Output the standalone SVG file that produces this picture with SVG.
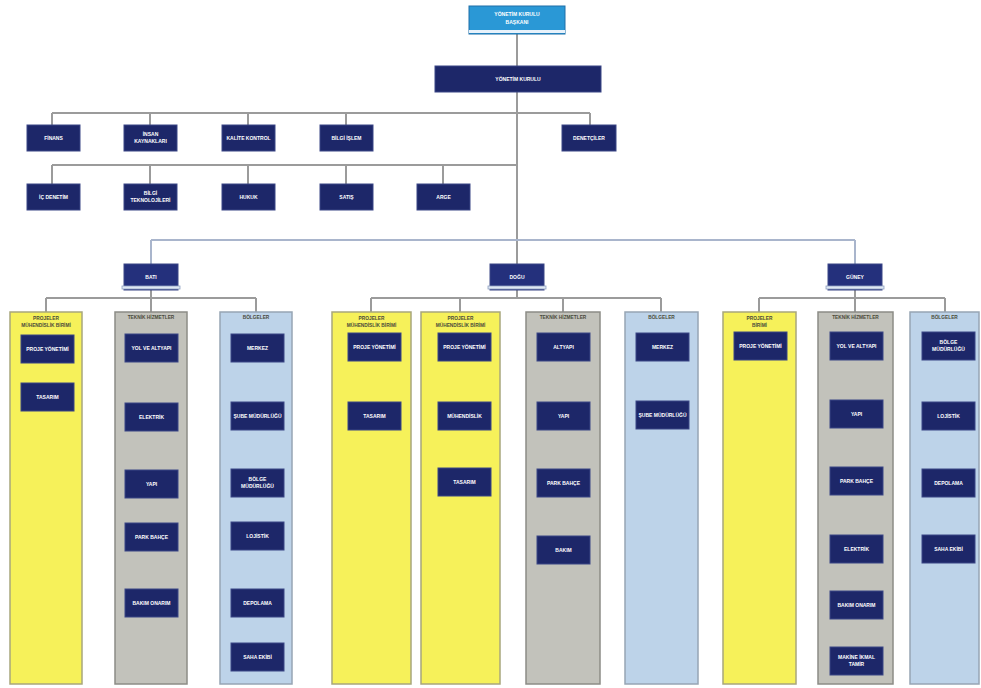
<svg xmlns="http://www.w3.org/2000/svg" width="981" height="688" viewBox="0 0 981 688">
<style>
.box{fill:#1d2769;stroke:#3b4686;stroke-width:1}
.hdr{fill:#24307c;stroke:#3b4686;stroke-width:1}
.stripe{fill:#dfe8f4;stroke:#8fa0c0;stroke-width:0.8}
.t{fill:#ffffff;font-family:"Liberation Sans",Arial,sans-serif;font-size:5px;font-weight:bold;text-anchor:middle}
.ct{fill:#4a4a3a;font-family:"Liberation Sans",Arial,sans-serif;font-size:4.8px;font-weight:bold;text-anchor:middle}
.colY{fill:#f6f15a;stroke:#a8a67c;stroke-width:1.5}
.colG{fill:#c2c2bb;stroke:#8c8c86;stroke-width:1.5}
.colB{fill:#bdd3e9;stroke:#97a5b4;stroke-width:1.5}
.ln{fill:none;stroke:#9b9b9b;stroke-width:2}
.lb{fill:none;stroke:#a9b5cc;stroke-width:2}
</style>
<rect width="981" height="688" fill="#ffffff"/>

<g id="connectors">
<path class="ln" d="M517 34V66M517 92V264"/>
<path class="ln" d="M52 113H590M52 113V125M150 113V125M248 113V125M346 113V125M590 113V125"/>
<path class="ln" d="M52 165H517M52 165V184M150 165V184M248 165V184M346 165V184M443 165V184"/>
<path class="lb" d="M151 240H855M151 240V264M855 240V264"/>
<path class="ln" d="M151 290V298M46 298H256M46 298V312M151 298V312M256 298V312"/>
<path class="ln" d="M517 290V298M371 298H661M371 298V312M460 298V312M563 298V312M661 298V312"/>
<path class="ln" d="M855 290V298M759 298H945M759 298V312M855 298V312M945 298V312"/>
</g>

<g id="n-baskan">
<rect x="469" y="6" width="96" height="28" fill="#2a98d6" stroke="#1f6fa8"/>
<rect x="469" y="30" width="96" height="3" fill="#e8f2fb"/>
<text class="t" x="517" y="16">YÖNETİM KURULU</text>
<text class="t" x="517" y="24">BAŞKANI</text>
</g>
<g id="n-yk">
<rect class="box" x="435" y="66" width="166" height="26"/>
<text class="t" x="518" y="81">YÖNETİM KURULU</text>
</g>

<g id="n-finans"><rect class="box" x="27" y="125" width="53" height="26"/><text class="t" x="53.5" y="140">FİNANS</text></g>
<g id="n-ik"><rect class="box" x="124" y="125" width="53" height="26"/><text class="t" x="150.5" y="136">İNSAN</text><text class="t" x="150.5" y="143">KAYNAKLARI</text></g>
<g id="n-kalite"><rect class="box" x="222" y="125" width="53" height="26"/><text class="t" x="248.5" y="140">KALİTE KONTROL</text></g>
<g id="n-bilgi"><rect class="box" x="320" y="125" width="53" height="26"/><text class="t" x="346.5" y="140">BİLGİ İŞLEM</text></g>
<g id="n-denetci"><rect class="box" x="562" y="125" width="54" height="26"/><text class="t" x="589" y="140">DENETÇİLER</text></g>

<g id="n-icdenetim"><rect class="box" x="27" y="184" width="53" height="26"/><text class="t" x="53.5" y="199">İÇ DENETİM</text></g>
<g id="n-bt"><rect class="box" x="124" y="184" width="53" height="26"/><text class="t" x="150.5" y="195">BİLGİ</text><text class="t" x="150.5" y="202">TEKNOLOJİLERİ</text></g>
<g id="n-hukuk"><rect class="box" x="222" y="184" width="53" height="26"/><text class="t" x="248.5" y="199">HUKUK</text></g>
<g id="n-satis"><rect class="box" x="320" y="184" width="53" height="26"/><text class="t" x="346.5" y="199">SATIŞ</text></g>
<g id="n-arge"><rect class="box" x="417" y="184" width="53" height="26"/><text class="t" x="443.5" y="199">ARGE</text></g>

<g id="h-bati"><rect class="hdr" x="124" y="264" width="54" height="26"/><rect class="stripe" x="122" y="286" width="58" height="3"/><text class="t" x="151" y="279">BATI</text></g>
<g id="h-dogu"><rect class="hdr" x="490" y="264" width="54" height="26"/><rect class="stripe" x="488" y="286" width="58" height="3"/><text class="t" x="517" y="279">DOĞU</text></g>
<g id="h-guney"><rect class="hdr" x="828" y="264" width="54" height="26"/><rect class="stripe" x="826" y="286" width="58" height="3"/><text class="t" x="855" y="279">GÜNEY</text></g>

<!-- BATI columns -->
<g id="c-bati-proje">
<rect class="colY" x="10" y="312" width="72" height="372"/>
<text class="ct" x="46" y="320">PROJELER</text><text class="ct" x="46" y="327">MÜHENDİSLİK BİRİMİ</text>
<g id="n-b1"><rect class="box" x="21" y="335" width="53" height="28"/><text class="t" x="47.5" y="351">PROJE YÖNETİMİ</text></g>
<g id="n-b2"><rect class="box" x="21" y="383" width="53" height="28"/><text class="t" x="47.5" y="399">TASARIM</text></g>
</g>
<g id="c-bati-teknik">
<rect class="colG" x="115" y="312" width="72" height="372"/>
<text class="ct" x="151" y="319">TEKNİK HİZMETLER</text>
<g id="n-b3"><rect class="box" x="125" y="334" width="53" height="28"/><text class="t" x="151.5" y="350">YOL VE ALTYAPI</text></g>
<g id="n-b4"><rect class="box" x="125" y="403" width="53" height="28"/><text class="t" x="151.5" y="419">ELEKTRİK</text></g>
<g id="n-b5"><rect class="box" x="125" y="470" width="53" height="28"/><text class="t" x="151.5" y="486">YAPI</text></g>
<g id="n-b6"><rect class="box" x="125" y="523" width="53" height="28"/><text class="t" x="151.5" y="539">PARK BAHÇE</text></g>
<g id="n-b7"><rect class="box" x="125" y="589" width="53" height="28"/><text class="t" x="151.5" y="605">BAKIM ONARIM</text></g>
</g>
<g id="c-bati-bolge">
<rect class="colB" x="220" y="312" width="72" height="372"/>
<text class="ct" x="256" y="319">BÖLGELER</text>
<g id="n-b8"><rect class="box" x="231" y="334" width="53" height="28"/><text class="t" x="257.5" y="350">MERKEZ</text></g>
<g id="n-b9"><rect class="box" x="231" y="402" width="53" height="28"/><text class="t" x="257.5" y="418">ŞUBE MÜDÜRLÜĞÜ</text></g>
<g id="n-b10"><rect class="box" x="231" y="469" width="53" height="28"/><text class="t" x="257.5" y="481">BÖLGE</text><text class="t" x="257.5" y="488">MÜDÜRLÜĞÜ</text></g>
<g id="n-b11"><rect class="box" x="231" y="522" width="53" height="28"/><text class="t" x="257.5" y="538">LOJİSTİK</text></g>
<g id="n-b12"><rect class="box" x="231" y="589" width="53" height="28"/><text class="t" x="257.5" y="605">DEPOLAMA</text></g>
<g id="n-b13"><rect class="box" x="231" y="643" width="53" height="28"/><text class="t" x="257.5" y="659">SAHA EKİBİ</text></g>
</g>

<!-- DOĞU columns -->
<g id="c-dogu-proje1">
<rect class="colY" x="332" y="312" width="79" height="372"/>
<text class="ct" x="371.5" y="320">PROJELER</text><text class="ct" x="371.5" y="327">MÜHENDİSLİK BİRİMİ</text>
<g id="n-d1"><rect class="box" x="348" y="333" width="53" height="28"/><text class="t" x="374.5" y="349">PROJE YÖNETİMİ</text></g>
<g id="n-d2"><rect class="box" x="348" y="402" width="53" height="28"/><text class="t" x="374.5" y="418">TASARIM</text></g>
</g>
<g id="c-dogu-proje2">
<rect class="colY" x="421" y="312" width="79" height="372"/>
<text class="ct" x="460.5" y="320">PROJELER</text><text class="ct" x="460.5" y="327">MÜHENDİSLİK BİRİMİ</text>
<g id="n-d3"><rect class="box" x="438" y="333" width="53" height="28"/><text class="t" x="464.5" y="349">PROJE YÖNETİMİ</text></g>
<g id="n-d4"><rect class="box" x="438" y="402" width="53" height="28"/><text class="t" x="464.5" y="418">MÜHENDİSLİK</text></g>
<g id="n-d5"><rect class="box" x="438" y="468" width="53" height="28"/><text class="t" x="464.5" y="484">TASARIM</text></g>
</g>
<g id="c-dogu-teknik">
<rect class="colG" x="526" y="312" width="74" height="372"/>
<text class="ct" x="563" y="319">TEKNİK HİZMETLER</text>
<g id="n-d6"><rect class="box" x="537" y="333" width="53" height="28"/><text class="t" x="563.5" y="349">ALTYAPI</text></g>
<g id="n-d7"><rect class="box" x="537" y="402" width="53" height="28"/><text class="t" x="563.5" y="418">YAPI</text></g>
<g id="n-d8"><rect class="box" x="537" y="469" width="53" height="28"/><text class="t" x="563.5" y="485">PARK BAHÇE</text></g>
<g id="n-d9"><rect class="box" x="537" y="536" width="53" height="28"/><text class="t" x="563.5" y="552">BAKIM</text></g>
</g>
<g id="c-dogu-bolge">
<rect class="colB" x="625" y="312" width="73" height="372"/>
<text class="ct" x="661.5" y="319">BÖLGELER</text>
<g id="n-d10"><rect class="box" x="636" y="333" width="53" height="28"/><text class="t" x="662.5" y="349">MERKEZ</text></g>
<g id="n-d11"><rect class="box" x="636" y="401" width="53" height="28"/><text class="t" x="662.5" y="417">ŞUBE MÜDÜRLÜĞÜ</text></g>
</g>

<!-- GÜNEY columns -->
<g id="c-guney-proje">
<rect class="colY" x="723" y="312" width="73" height="372"/>
<text class="ct" x="759.5" y="320">PROJELER</text><text class="ct" x="759.5" y="327">BİRİMİ</text>
<g id="n-g1"><rect class="box" x="734" y="332" width="53" height="28"/><text class="t" x="760.5" y="348">PROJE YÖNETİMİ</text></g>
</g>
<g id="c-guney-teknik">
<rect class="colG" x="818" y="312" width="75" height="372"/>
<text class="ct" x="855.5" y="319">TEKNİK HİZMETLER</text>
<g id="n-g2"><rect class="box" x="830" y="332" width="53" height="28"/><text class="t" x="856.5" y="348">YOL VE ALTYAPI</text></g>
<g id="n-g3"><rect class="box" x="830" y="400" width="53" height="28"/><text class="t" x="856.5" y="416">YAPI</text></g>
<g id="n-g4"><rect class="box" x="830" y="467" width="53" height="28"/><text class="t" x="856.5" y="483">PARK BAHÇE</text></g>
<g id="n-g5"><rect class="box" x="830" y="535" width="53" height="28"/><text class="t" x="856.5" y="551">ELEKTRİK</text></g>
<g id="n-g6"><rect class="box" x="830" y="591" width="53" height="28"/><text class="t" x="856.5" y="607">BAKIM ONARIM</text></g>
<g id="n-g7"><rect class="box" x="830" y="647" width="53" height="28"/><text class="t" x="856.5" y="659">MAKİNE İKMAL</text><text class="t" x="856.5" y="666">TAMİR</text></g>
</g>
<g id="c-guney-bolge">
<rect class="colB" x="910" y="312" width="69" height="372"/>
<text class="ct" x="944.5" y="319">BÖLGELER</text>
<g id="n-g8"><rect class="box" x="922" y="332" width="53" height="28"/><text class="t" x="948.5" y="344">BÖLGE</text><text class="t" x="948.5" y="351">MÜDÜRLÜĞÜ</text></g>
<g id="n-g9"><rect class="box" x="922" y="402" width="53" height="28"/><text class="t" x="948.5" y="418">LOJİSTİK</text></g>
<g id="n-g10"><rect class="box" x="922" y="469" width="53" height="28"/><text class="t" x="948.5" y="485">DEPOLAMA</text></g>
<g id="n-g11"><rect class="box" x="922" y="535" width="53" height="28"/><text class="t" x="948.5" y="551">SAHA EKİBİ</text></g>
</g>
</svg>
